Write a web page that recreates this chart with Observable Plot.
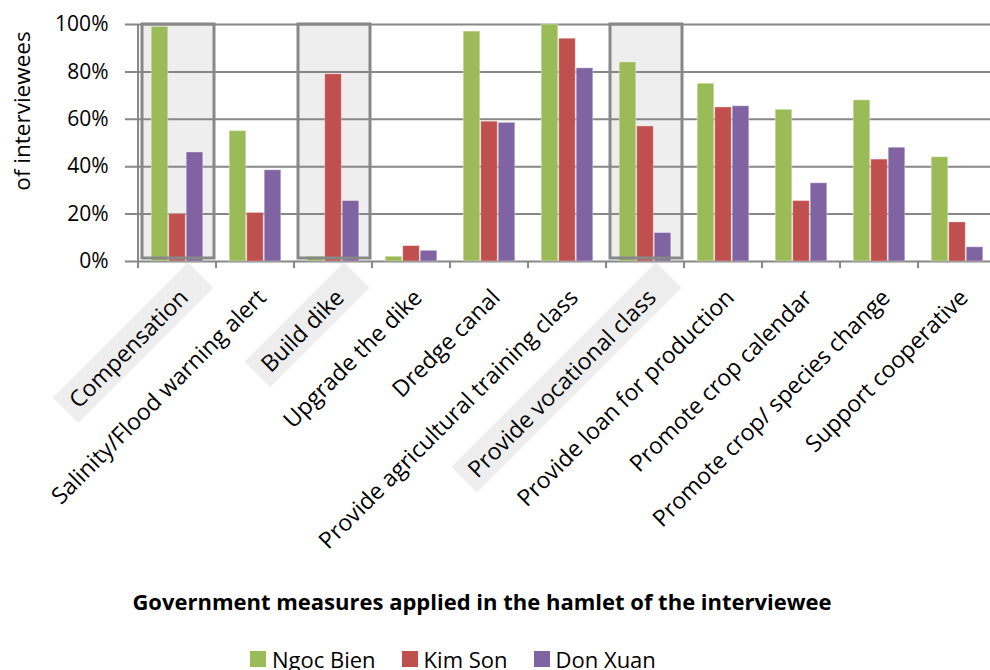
<!DOCTYPE html>
<html><head><meta charset="utf-8">
<script src="https://cdn.jsdelivr.net/npm/d3@7"></script>
<script src="https://cdn.jsdelivr.net/npm/@observablehq/plot@0.6"></script>
<style>
html,body{margin:0;padding:0;background:#fff;}
body{font-family:"Open Sans",Lato,sans-serif;color:#000;}
#wrap{position:relative;width:990px;height:670px;overflow:hidden;}
#chart{position:absolute;left:0;top:0;}
#ylabel{position:absolute;left:21px;top:111px;transform:translate(-50%,-50%) rotate(-90deg);font-size:22.5px;white-space:nowrap;line-height:normal;}
#title{position:absolute;left:0;width:964px;text-align:center;top:586px;font-weight:bold;font-size:22px;white-space:nowrap;line-height:normal;}
#legend{position:absolute;left:250px;top:644px;display:flex;align-items:center;font-size:22px;white-space:nowrap;line-height:normal;}
#legend .item{display:flex;align-items:center;margin-right:26px;}
#legend .sw{width:16px;height:16px;margin-right:6px;}
</style></head>
<body>
<div id="wrap">
  <div id="chart"></div>
  <div id="ylabel"></div>
  <div id="title"></div>
  <div id="legend"></div>
</div>
<script>
const categories = ["Compensation","Salinity/Flood warning alert","Build dike","Upgrade the dike","Dredge canal","Provide agricultural training class","Provide vocational class","Provide loan for production","Promote crop calendar","Promote crop/ species change","Support cooperative"];
const seriesNames = ["Ngoc Bien","Kim Son","Don Xuan"];
const ngocBien = [99, 55, 2, 2, 97, 100, 84, 75, 64, 68, 44];
const kimSon   = [20, 20.5, 79, 6.5, 59, 94, 57, 65, 25.5, 43, 16.5];
const donXuan  = [46, 38.5, 25.5, 4.5, 58.5, 81.5, 12, 65.5, 33, 48, 6];
const highlighted = ["Compensation","Build dike","Provide vocational class"];
const yTicks = [0, 0.2, 0.4, 0.6, 0.8, 1];
const yTickLabels = ["0%","20%","40%","60%","80%","100%"];
const colors = ["#9BBB59","#C0504D","#8064A2"];
const yLabel = "of interviewees";
const xTitle = "Government measures applied in the hamlet of the interviewee";

const seriesValues = [ngocBien, kimSon, donXuan];
const rows = [];
seriesNames.forEach((s, si) => categories.forEach((c, ci) => rows.push({cat: c, series: s, si, value: seriesValues[si][ci] / 100})));

const W = 990, H = 580;
const xRange = [133, 1001];
const bw = (xRange[1] - xRange[0]) / categories.length;
const barW = 17.5;
const groupOff = (bw - 3 * barW) / 2;
const font = '"Open Sans", Lato, sans-serif';
const labelSize = 23;

const ctx = document.createElement("canvas").getContext("2d");
ctx.font = `${labelSize}px "Open Sans"`;
const measure = t => ctx.measureText(t).width;

function labelMark(index, scales) {
  const g = d3.create("svg:g");
  const x = scales.x, y = scales.y;
  const y0 = y(0);
  categories.forEach(c => {
    const cx = x(c) + bw / 2;
    const t = g.append("g").attr("transform", `translate(${cx + 12},${y0 + 38}) rotate(-45)`);
    if (highlighted.includes(c)) {
      const w = measure(c);
      t.append("rect").attr("x", -w - 10).attr("y", -27).attr("width", w + 35).attr("height", 36).attr("fill", "#eeeeee");
    }
    t.append("text").attr("text-anchor", "end")
      .attr("font-size", labelSize).attr("font-family", font).attr("fill", "#000").text(c);
  });
  return g.node();
}

const marks = [
  labelMark,
  Plot.barY(highlighted, {x: d => d, y1: 0, y2: 1, fill: "#eeeeee", insetLeft: 4, insetRight: 2, insetBottom: 3}),
  Plot.ruleY(yTicks, {y: d => d, stroke: "#878787", strokeWidth: 2}),
  ...seriesNames.map((s, si) => Plot.barY(rows.filter(r => r.si === si), {
    x: "cat", y: "value", fill: colors[si],
    stroke: "#ffffff", strokeOpacity: 0.35, strokeWidth: 1,
    insetLeft: groupOff + si * barW, insetRight: bw - groupOff - (si + 1) * barW
  })),
  Plot.barY(highlighted, {x: d => d, y1: 0, y2: 1, fill: "none", stroke: "#888888", strokeWidth: 3, insetLeft: 4, insetRight: 2, insetBottom: 3}),
  Plot.ruleX(categories, {x: d => d, dx: -bw / 2, y1: -0.03, y2: 0, stroke: "#878787", strokeWidth: 2}),
  Plot.ruleX([categories[0]], {x: d => d, dx: -bw / 2, y1: 0, y2: 1, stroke: "#878787", strokeWidth: 2}),
  Plot.text(yTicks, {y: d => d, text: d => yTickLabels[yTicks.indexOf(d)], frameAnchor: "left", textAnchor: "end", dx: -17, fontSize: 21, fill: "#000"})
];

const chart = Plot.plot({
  width: W, height: H,
  marginLeft: 125, marginRight: 0, marginTop: 24, marginBottom: H - 261,
  style: {fontFamily: font, background: "transparent", overflow: "hidden"},
  x: {type: "band", domain: categories, range: xRange, padding: 0, axis: null},
  y: {domain: [0, 1], axis: null},
  marks
});
document.getElementById("chart").appendChild(chart);
document.getElementById("ylabel").textContent = yLabel;
document.getElementById("title").textContent = xTitle;
const leg = document.getElementById("legend");
seriesNames.forEach((s, i) => {
  const it = document.createElement("div"); it.className = "item";
  const sw = document.createElement("div"); sw.className = "sw"; sw.style.background = colors[i];
  const tx = document.createElement("span"); tx.textContent = s;
  it.appendChild(sw); it.appendChild(tx); leg.appendChild(it);
});
</script>
</body></html>
